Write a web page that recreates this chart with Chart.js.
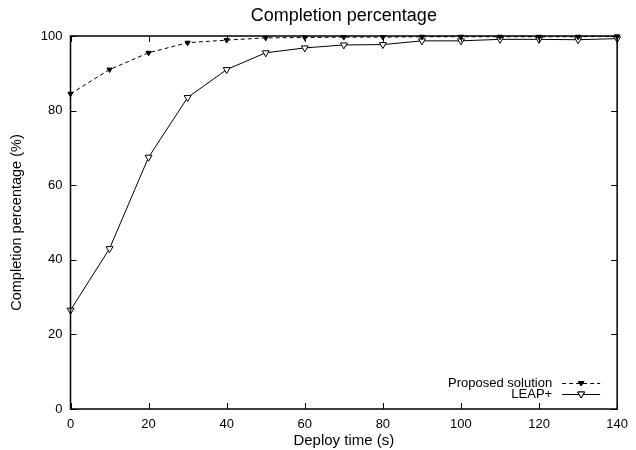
<!DOCTYPE html>
<html>
<head>
<meta charset="utf-8">
<script src="https://cdn.jsdelivr.net/npm/chart.js@4"></script>
<style>
  html, body { margin: 0; padding: 0; background: #fff; }
  #wrap { width: 636px; height: 450px; }
</style>
</head>
<body>
<div id="wrap"><canvas id="chart"></canvas></div>
<script>
// data
const deployTimes = [0, 10, 20, 30, 40, 50, 60, 70, 80, 90, 100, 110, 120, 130, 140];
const proposed = [84.5, 91, 95.5, 98.2, 98.9, 99.5, 99.6, 99.7, 99.7, 99.8, 99.8, 99.8, 99.8, 99.8, 99.9];
const leapPlus = [26.5, 43, 67.5, 83.5, 91, 95.5, 96.8, 97.6, 97.7, 98.7, 98.7, 99.1, 99.1, 99.0, 99.3];
const seriesNames = ["Proposed solution", "LEAP+"];
const chartTitle = "Completion percentage";
const xTicks = [0, 20, 40, 60, 80, 100, 120, 140];
const yTicks = [0, 20, 40, 60, 80, 100];

const FONT = "'Liberation Sans', Arial, Helvetica, sans-serif";

function toPoints(values) {
    return deployTimes.map((t, i) => ({ x: t, y: values[i] }));
}

// gnuplot style frame with inward (mirrored) tick marks, title centred on the plot
const framePlugin = {
    id: "frame",
    afterDraw(chart) {
        const { ctx, chartArea: a, scales } = chart;
        const len = 6;
        ctx.save();
        ctx.strokeStyle = "#000";
        ctx.lineWidth = 1;
        ctx.beginPath();
        xTicks.forEach(v => {
            const px = Math.round(scales.x.getPixelForValue(v)) + 0.5;
            ctx.moveTo(px, a.bottom); ctx.lineTo(px, a.bottom - len);
            ctx.moveTo(px, a.top); ctx.lineTo(px, a.top + len);
        });
        yTicks.forEach(v => {
            const py = Math.round(scales.y.getPixelForValue(v)) + 0.5;
            ctx.moveTo(a.left, py); ctx.lineTo(a.left + len, py);
            ctx.moveTo(a.right, py); ctx.lineTo(a.right - len, py);
        });
        ctx.stroke();
        ctx.lineWidth = 1.5;
        ctx.strokeRect(a.left, a.top, a.right - a.left, a.bottom - a.top);

        ctx.font = "18px " + FONT;
        ctx.fillStyle = "#000";
        ctx.textAlign = "center";
        ctx.textBaseline = "middle";
        ctx.fillText(chartTitle, (a.left + a.right) / 2, a.top - 20);
        ctx.restore();
    }
};

// legend inside the plot, bottom right, text before the sample
const keyPlugin = {
    id: "key",
    afterDraw(chart) {
        const { ctx, chartArea: a } = chart;
        const textRight = a.right - 65;
        const lineL = a.right - 55, lineR = a.right - 17;
        const rows = [a.bottom - 26, a.bottom - 15];
        ctx.save();
        ctx.font = "13px " + FONT;
        ctx.textAlign = "right";
        ctx.textBaseline = "middle";
        ctx.fillStyle = "#000";
        chart.data.datasets.forEach((ds, i) => {
            const y = rows[i];
            ctx.fillText(seriesNames[i], textRight, y);
            ctx.beginPath();
            ctx.setLineDash(ds.borderDash || []);
            ctx.lineWidth = 1;
            ctx.strokeStyle = "#000";
            ctx.moveTo(lineL, y + 0.5); ctx.lineTo(lineR, y + 0.5);
            ctx.stroke();
            ctx.setLineDash([]);
            Chart.helpers.drawPoint(ctx, {
                pointStyle: "triangle",
                radius: ds.pointRadius,
                rotation: 180,
                borderWidth: 1
            }, (lineL + lineR) / 2, y);
            ctx.fillStyle = ds.pointBackgroundColor;
            ctx.fill();
            ctx.stroke();
            ctx.fillStyle = "#000";
        });
        ctx.restore();
    }
};

new Chart(document.getElementById("chart"), {
    type: "line",
    data: {
        datasets: [{
            label: seriesNames[0],
            data: toPoints(proposed),
            borderColor: "#000",
            borderWidth: 1,
            borderDash: [4, 3],
            pointStyle: "triangle",
            pointRotation: 180,
            pointRadius: 3,
            pointBorderWidth: 1,
            pointBorderColor: "#000",
            pointBackgroundColor: "#000",
            tension: 0,
            clip: false
        }, {
            label: seriesNames[1],
            data: toPoints(leapPlus),
            borderColor: "#000",
            borderWidth: 1,
            pointStyle: "triangle",
            pointRotation: 180,
            pointRadius: 4,
            pointBorderWidth: 1,
            pointBorderColor: "#000",
            pointBackgroundColor: "#fff",
            tension: 0,
            clip: false
        }]
    },
    options: {
        responsive: true,
        maintainAspectRatio: false,
        animation: false,
        layout: { padding: { left: 0, right: 15, top: 36, bottom: 0 } },
        plugins: {
            legend: { display: false },
            tooltip: { enabled: false },
            title: { display: false }
        },
        scales: {
            x: {
                type: "linear",
                min: 0,
                max: 140,
                afterBuildTicks: s => { s.ticks = xTicks.map(v => ({ value: v })); },
                afterFit: s => { s.height = 41; },
                grid: { display: false, drawTicks: false },
                border: { display: false },
                ticks: { color: "#000", padding: 8, font: { family: FONT, size: 13 } },
                title: {
                    display: true,
                    text: "Deploy time (s)",
                    color: "#000",
                    font: { family: FONT, size: 15 },
                    padding: { top: 0, bottom: 0 }
                }
            },
            y: {
                min: 0,
                max: 100,
                afterBuildTicks: s => { s.ticks = yTicks.map(v => ({ value: v })); },
                afterFit: s => { s.width = 70.5; },
                grid: { display: false, drawTicks: false },
                border: { display: false },
                ticks: { color: "#000", padding: 8, font: { family: FONT, size: 13 } },
                title: {
                    display: true,
                    text: "Completion percentage (%)",
                    color: "#000",
                    font: { family: FONT, size: 14.5 },
                    padding: { top: 8, bottom: 0 }
                }
            }
        }
    },
    plugins: [framePlugin, keyPlugin]
});
</script>
</body>
</html>
